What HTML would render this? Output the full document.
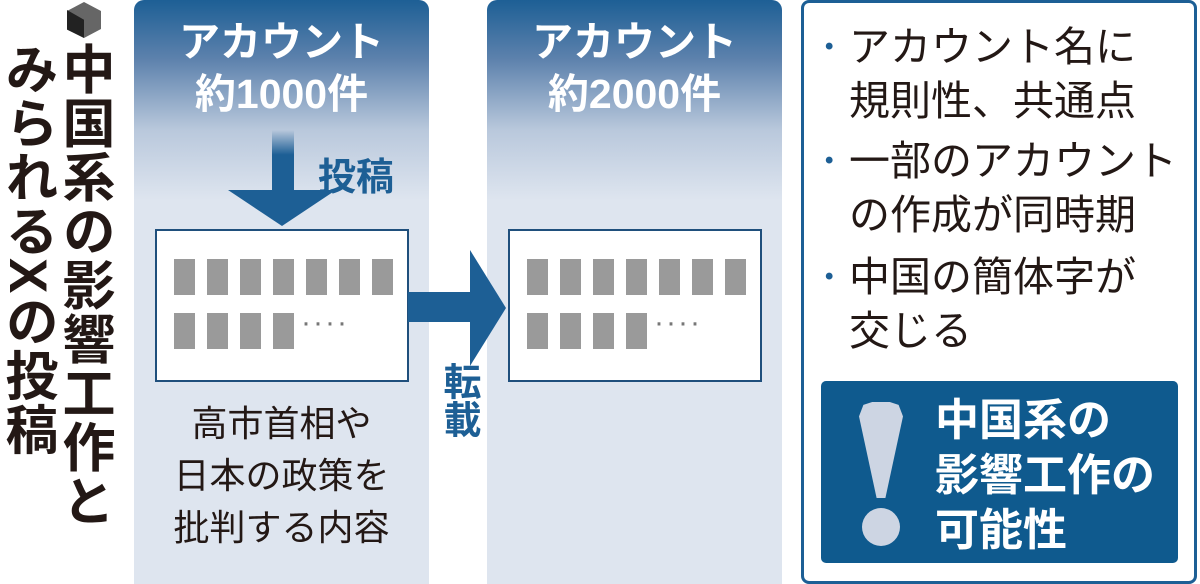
<!DOCTYPE html>
<html><head><meta charset="utf-8"><style>
body{margin:0;width:1200px;height:584px;overflow:hidden;background:#fff;font-family:"Liberation Sans","Noto Sans CJK JP",sans-serif;position:relative}
.a{position:absolute}
.panel{position:absolute;top:0;width:295px;height:584px;border-radius:10px 10px 0 0;background:linear-gradient(#1d5f95 0px,#5e82ad 60px,#b9c8dc 130px,#dee5ef 200px,#dee5ef)}
.hd{position:absolute;width:295px;text-align:center;color:#fff;font-weight:bold;font-size:41px;line-height:52px;top:16px}
.box{position:absolute;top:229px;width:250px;height:149px;background:#fff;border:2px solid #1f4f7c}
.bar{position:absolute;width:21px;height:36px;background:#9a9a9a}
.vt{position:absolute;writing-mode:vertical-rl;font-weight:bold;color:#231815;font-size:53px;line-height:54px;letter-spacing:1px}
.li{position:absolute;left:822px;font-size:41px;line-height:54px;color:#231815}
.li b{color:#1d5f95;font-size:24px;position:absolute;left:0}
</style></head><body>
<div class="a" style="left:67px;top:2px;width:34px;height:36px;background:#666;clip-path:polygon(50% 0,100% 25%,100% 75%,50% 100%,0 75%,0 25%)"></div>
<div class="a" style="left:67px;top:10px;width:17px;height:28px;background:#222;clip-path:polygon(0 0,100% 35%,100% 100%,0 70%)"></div>
<div class="vt" style="left:57px;top:42px">中国系の影響工作と</div>
<div class="vt" style="left:0px;top:42px">みられるXの投稿</div>

<div class="panel" style="left:134px"></div>
<div class="panel" style="left:487px"></div>
<div class="hd" style="left:134px">アカウント<br>約1000件</div>
<div class="hd" style="left:487px">アカウント<br>約2000件</div>

<div class="a" style="left:272px;top:130px;width:22px;height:62px;background:linear-gradient(#b9c8dc,#1d5f95 40%)"></div>
<div class="a" style="left:228px;top:190px;width:108px;height:36px;background:#1d5f95;clip-path:polygon(0 0,100% 0,50% 100%)"></div>
<div class="a" style="left:318px;top:146px;font-size:38px;font-weight:bold;color:#1d5f95">投稿</div>

<div class="box" style="left:155px"></div>
<div class="box" style="left:508px"></div>

<div class="a" style="left:408px;top:292px;width:64px;height:30px;background:#1d5f95"></div>
<div class="a" style="left:470px;top:250px;width:36px;height:116px;background:#1d5f95;clip-path:polygon(0 0,100% 50%,0 100%)"></div>
<div class="a" style="left:436px;top:362px;writing-mode:vertical-rl;font-size:38px;font-weight:bold;color:#1d5f95;line-height:44px">転載</div>

<div id="bars"></div>
<div class="a" style="left:134px;top:398px;width:295px;text-align:center;font-size:36px;line-height:52px;color:#231815">高市首相や<br>日本の政策を<br>批判する内容</div>

<div class="a" style="left:801px;top:0;width:390px;height:578px;border:3px solid #1d5f95;border-radius:8px;background:#fff"></div>
<div class="li" style="top:20px;left:825px"><b style="left:0;top:0">•</b><span style="margin-left:24px">アカウント名に</span><br><span style="margin-left:24px">規則性、共通点</span></div>
<div class="li" style="top:134px;left:825px"><b style="left:0;top:0">•</b><span style="margin-left:24px">一部のアカウント</span><br><span style="margin-left:24px">の作成が同時期</span></div>
<div class="li" style="top:250px;left:825px"><b style="left:0;top:0">•</b><span style="margin-left:24px">中国の簡体字が</span><br><span style="margin-left:24px">交じる</span></div>

<div class="a" style="left:821px;top:381px;width:357px;height:182px;background:#0f5a8e;border-radius:5px"></div>
<div class="a" style="left:859px;top:402px;width:44px;height:96px;background:#cdd5e3;clip-path:polygon(0 15%,10% 3%,30% 0,70% 0,90% 3%,100% 15%,60% 100%,40% 100%)"></div>
<div class="a" style="left:862px;top:508px;width:38px;height:38px;border-radius:50%;background:#cdd5e3"></div>
<div class="a" style="left:935px;top:393px;font-size:44px;line-height:55px;font-weight:bold;color:#fff">中国系の<br>影響工作の<br>可能性</div>

<script>
var h='';
[155,508].forEach(function(bx){
for(var i=0;i<7;i++)h+='<div class="bar" style="left:'+(bx+19+i*33)+'px;top:259px"></div>';
for(var i=0;i<4;i++)h+='<div class="bar" style="left:'+(bx+19+i*33)+'px;top:313px"></div>';
h+='<div class="a" style="left:'+(bx+146)+'px;top:306px;font-size:30px;color:#777;letter-spacing:2px">····</div>';
});
document.getElementById('bars').innerHTML=h;
</script>
</body></html>
